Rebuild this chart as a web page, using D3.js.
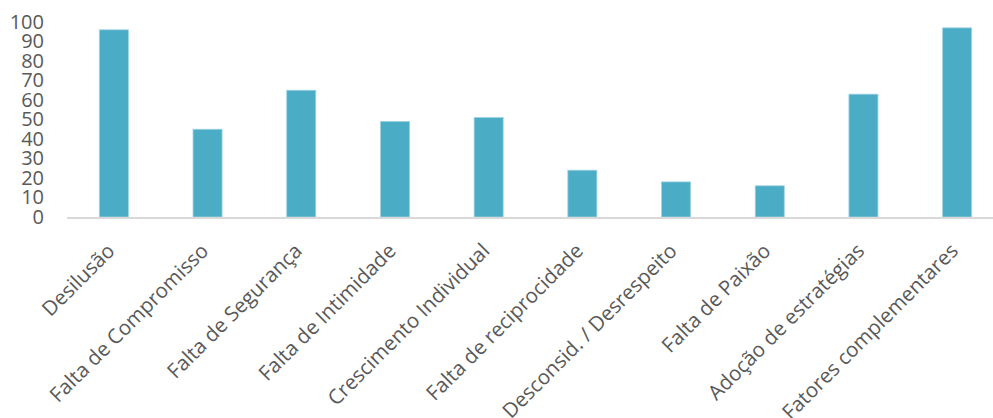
<!DOCTYPE html>
<html>
<head>
<meta charset="utf-8">
<script src="https://cdnjs.cloudflare.com/ajax/libs/d3/7.8.5/d3.min.js"></script>
<style>
  body { margin: 0; background: #fff; }
  svg text { fill: #595959; }
</style>
</head>
<body>
<svg id="chart" width="993" height="418"></svg>
<script>
var categories = [
    'Desilusão', 'Falta de Compromisso', 'Falta de Segurança', 'Falta de Intimidade',
    'Crescimento Individual', 'Falta de reciprocidade', 'Desconsid. / Desrespeito',
    'Falta de Paixão', 'Adoção de estratégias', 'Fatores complementares'
];
var values = [96, 45, 65, 49, 51, 24, 18, 16, 63, 97];
var yTicks = [0, 10, 20, 30, 40, 50, 60, 70, 80, 90, 100];

var svg = d3.select('#chart');
var width = 993, height = 418;
var left = 67, baseY = 217, topY = 22;

var x = d3.scaleBand()
    .domain(categories)
    .range([left, left + 937])
    .paddingInner(0.69)
    .paddingOuter(0.345);

var y = d3.scaleLinear().domain([0, 100]).range([baseY, topY]);

// y axis labels only
svg.append('g')
    .attr('transform', 'translate(44,0)')
    .call(d3.axisLeft(y).tickValues(yTicks).tickSize(0).tickPadding(0))
    .call(function(g) {
        g.select('.domain').remove();
        g.selectAll('text')
            .style('font-family', '"Open Sans", sans-serif')
            .style('font-size', '20px')
            .attr('fill', '#595959');
    });

svg.append('g').selectAll('rect')
    .data(values)
    .enter().append('rect')
    .attr('x', function(d, i) { return x(categories[i]); })
    .attr('width', x.bandwidth())
    .attr('y', function(d) { return y(d); })
    .attr('height', function(d) { return baseY - y(d); })
    .attr('fill', '#4bacc6')
    .attr('stroke', '#9fd3e2')
    .attr('stroke-width', 0.8);

// baseline
svg.append('line')
    .attr('x1', left).attr('x2', width)
    .attr('y1', baseY + 1).attr('y2', baseY + 1)
    .attr('stroke', '#d9d9d9')
    .attr('stroke-width', 2);

// rotated category labels
svg.append('g').selectAll('text')
    .data(categories)
    .enter().append('text')
    .attr('transform', function(d) {
        var cx = x(d) + x.bandwidth() / 2;
        return 'translate(' + (cx - 8) + ',' + (baseY + 25) + ') rotate(-45)';
    })
    .attr('text-anchor', 'end')
    .attr('dy', '0.7em')
    .style('font-family', '"Open Sans", sans-serif')
    .style('font-size', '20.5px')
    .text(function(d) { return d; });
</script>
</body>
</html>
